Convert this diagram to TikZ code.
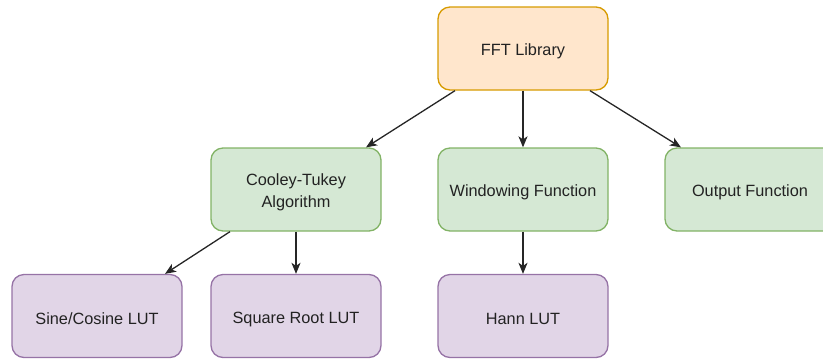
\documentclass[tikz,border=0pt]{standalone}
\usepackage{fontspec}
\setmainfont{Liberation Sans}
\usetikzlibrary{arrows.meta,calc}
\definecolor{orfill}{HTML}{FFE6CC}
\definecolor{ordraw}{HTML}{D79B00}
\definecolor{grfill}{HTML}{D5E8D4}
\definecolor{grdraw}{HTML}{82B366}
\definecolor{pufill}{HTML}{E1D5E7}
\definecolor{pudraw}{HTML}{9673A6}
\definecolor{txt}{HTML}{222222}
\tikzset{
  box/.style={rectangle, rounded corners=12pt, minimum width=170pt, minimum height=83pt,
    line width=1.3pt, inner sep=0pt},
  lbl/.style={align=center, text=txt, font=\fontsize{16.3}{20}\selectfont, inner sep=0pt, yshift=-3pt},
  orbox/.style={box, fill=orfill, draw=ordraw},
  grbox/.style={box, fill=grfill, draw=grdraw},
  pubox/.style={box, fill=pufill, draw=pudraw},
  link/.style={draw=black!85, line width=1.3pt, -{Stealth[length=11pt,width=9pt,inset=3pt]}}
}
\begin{document}
\begin{tikzpicture}[x=1pt,y=-1pt]
\useasboundingbox (0,0) rectangle (823,360);
\node[orbox, label={[lbl]center:FFT Library}] (fft) at (523,48.5) {};
\node[grbox, label={[lbl]center:Cooley-Tukey\\[2pt]Algorithm}] (ct) at (296,189.5) {};
\node[grbox, label={[lbl]center:Windowing Function}] (win) at (523,189.5) {};
\node[grbox, label={[lbl]center:Output Function}] (out) at (750,189.5) {};
\node[pubox, label={[lbl]center:Sine/Cosine LUT}] (sin) at (97,316) {};
\node[pubox, label={[lbl]center:Square Root LUT}] (sq) at (296,316) {};
\node[pubox, label={[lbl]center:Hann LUT}] (hann) at (523,316) {};
\draw[link] ($(fft.south)+(-68,0)$) -- ($(ct.north)+(70,0)$);
\draw[link] (fft.south) -- (win.north);
\draw[link] ($(fft.south)+(67,0)$) -- ($(out.north)+(-69,0)$);
\draw[link] ($(ct.south)+(-66,0)$) -- ($(sin.north)+(68,0)$);
\draw[link] (ct.south) -- (sq.north);
\draw[link] (win.south) -- (hann.north);
\end{tikzpicture}
\end{document}
